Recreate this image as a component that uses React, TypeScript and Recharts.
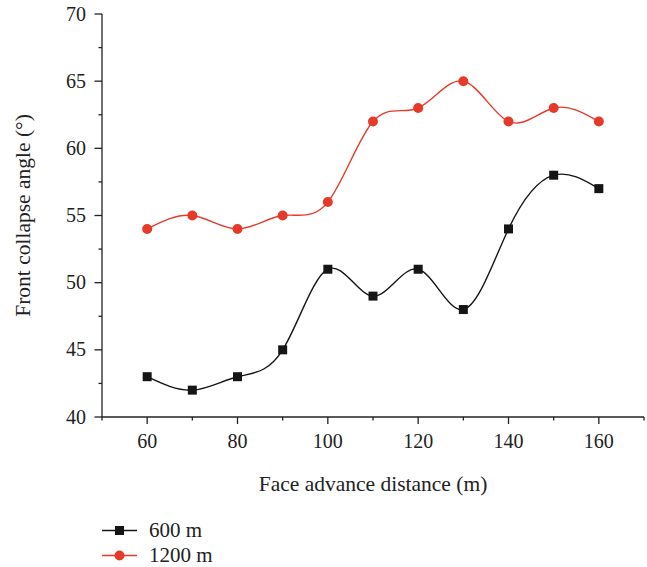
import { LineChart, Line, XAxis, YAxis } from 'recharts';

const distances = [60, 70, 80, 90, 100, 110, 120, 130, 140, 150, 160];
const angles600 = [43, 42, 43, 45, 51, 49, 51, 48, 54, 58, 57];
const angles1200 = [54, 55, 54, 55, 56, 62, 63, 65, 62, 63, 62];

const xTicks = [50, 60, 70, 80, 90, 100, 110, 120, 130, 140, 150, 160, 170];
const xLabelled = [60, 80, 100, 120, 140, 160];
const yTicks = [40, 42.5, 45, 47.5, 50, 52.5, 55, 57.5, 60, 62.5, 65, 67.5, 70];
const yLabelled = [40, 45, 50, 55, 60, 65, 70];

const FONT = '"Liberation Serif", "Times New Roman", serif';
const AXIS = '#222';
const BLACK = '#151515';
const RED = '#e53a2a';

const data = distances.map((d, i) => ({ d, s600: angles600[i], s1200: angles1200[i] }));

const series = [
  { key: 's600', name: '600 m', color: BLACK, shape: 'square' },
  { key: 's1200', name: '1200 m', color: RED, shape: 'circle' },
];

function XTick(props: any) {
  const { x, y, payload } = props;
  const major = xLabelled.includes(payload.value);
  return (
    <g>
      <line x1={x} y1={y} x2={x} y2={y + (major ? 7 : 3.5)} stroke={AXIS} strokeWidth={1.3} />
      {major && (
        <text x={x} y={y + 31} textAnchor="middle" fontFamily={FONT} fontSize={20} fill="#222">
          {payload.value}
        </text>
      )}
    </g>
  );
}

function YTick(props: any) {
  const { x, y, payload } = props;
  const major = yLabelled.includes(payload.value);
  return (
    <g>
      <line x1={x} y1={y} x2={x - (major ? 7.5 : 3.5)} y2={y} stroke={AXIS} strokeWidth={1.3} />
      {major && (
        <text x={x - 16} y={y + 6.5} textAnchor="end" fontFamily={FONT} fontSize={20} fill="#222">
          {payload.value}
        </text>
      )}
    </g>
  );
}

function Marker({ shape, color, cx, cy }: { shape: string; color: string; cx: number; cy: number }) {
  if (shape === 'square') {
    return <rect x={cx - 4.5} y={cy - 4.5} width={9} height={9} fill={color} />;
  }
  return <circle cx={cx} cy={cy} r={5} fill={color} />;
}

export default function App() {
  return (
    <div style={{ position: 'absolute', left: 0, top: 0, width: 647, height: 567, background: '#fff' }}>
      <LineChart width={647} height={567} data={data} margin={{ top: 14, right: 3, left: 0, bottom: 0 }}>
        <XAxis
          dataKey="d"
          type="number"
          domain={[50, 170]}
          ticks={xTicks}
          interval={0}
          height={150}
          tickSize={0}
          tickMargin={0}
          tickLine={false}
          axisLine={{ stroke: AXIS, strokeWidth: 1.3 }}
          tick={<XTick />}
          label={{
            value: 'Face advance distance (m)',
            position: 'insideBottom',
            offset: 76,
            style: { fontFamily: FONT, fontSize: 21.5, fill: '#222' },
          }}
        />
        <XAxis
          xAxisId="top"
          orientation="top"
          type="number"
          domain={[50, 170]}
          height={0}
          tick={false}
          tickLine={false}
          axisLine={{ stroke: AXIS, strokeWidth: 1.3 }}
        />
        <YAxis
          type="number"
          domain={[40, 70]}
          ticks={yTicks}
          interval={0}
          width={102}
          tickSize={0}
          tickMargin={0}
          tickLine={false}
          axisLine={{ stroke: AXIS, strokeWidth: 1.3 }}
          tick={<YTick />}
          label={{
            value: 'Front collapse angle (°)',
            angle: -90,
            position: 'insideLeft',
            offset: 22,
            style: { textAnchor: 'middle', fontFamily: FONT, fontSize: 21.5, fill: '#222' },
          }}
        />
        <YAxis
          yAxisId="right"
          orientation="right"
          type="number"
          domain={[40, 70]}
          width={0}
          tick={false}
          tickLine={false}
          axisLine={{ stroke: AXIS, strokeWidth: 1.3 }}
        />
        {series.map((s) => (
          <Line
            key={s.key}
            type="natural"
            dataKey={s.key}
            name={s.name}
            stroke={s.color}
            strokeWidth={1.4}
            isAnimationActive={false}
            dot={(p: any) => <Marker key={`${s.key}-${p.index}`} shape={s.shape} color={s.color} cx={p.cx} cy={p.cy} />}
            activeDot={false}
          />
        ))}
      </LineChart>
      <div style={{ position: 'absolute', left: 100, top: 518, fontFamily: FONT, fontSize: 21, color: '#222' }}>
        {series.map((s) => (
          <div key={s.key} style={{ display: 'flex', alignItems: 'center', height: 25 }}>
            <svg width={40} height={25}>
              <line x1={2} y1={12.5} x2={37} y2={12.5} stroke={s.color} strokeWidth={1.4} />
              <Marker shape={s.shape} color={s.color} cx={19.5} cy={12.5} />
            </svg>
            <span style={{ marginLeft: 9 }}>{s.name}</span>
          </div>
        ))}
      </div>
    </div>
  );
}
